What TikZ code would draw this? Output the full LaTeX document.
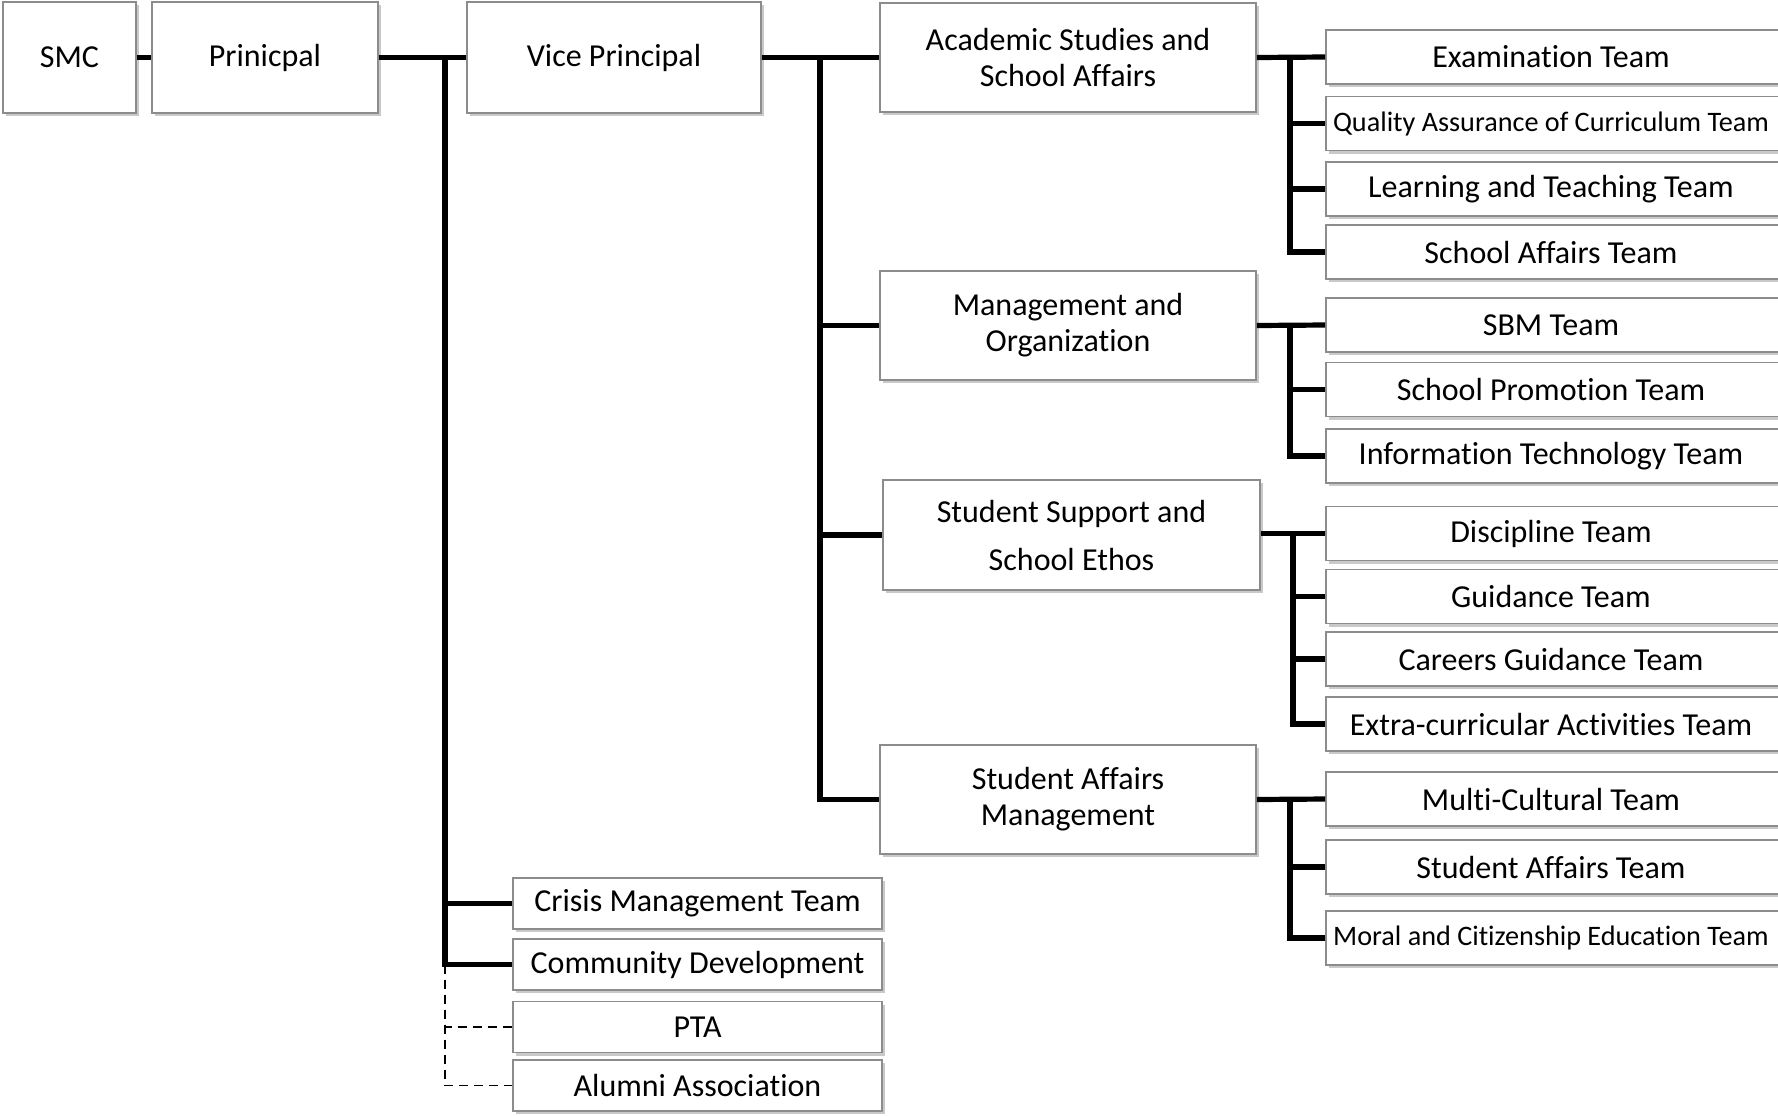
\documentclass[tikz,border=0pt]{standalone}
\usepackage{fontspec}
\setmainfont{Carlito}[Ligatures={NoCommon,NoRequired,NoContextual}]
\usetikzlibrary{shadows}
\newcommand\tibrk{t\kern0pt i}
\begin{document}
\begin{tikzpicture}[x=0.5pt,y=-0.5pt,
  box/.style={draw=black!45, line width=0.8pt, fill=white, rectangle, inner sep=0pt, align=center,
    font=\fontsize{16}{18.5}\selectfont,
    drop shadow={shadow xshift=1.4pt, shadow yshift=-1.6pt, fill=black!35, opacity=0.6}},
  bw/.style={minimum width=#1*0.5pt},
  bh/.style={minimum height=#1*0.5pt},
  rbox/.style={box, bw=480, bh=54},
  lbox/.style={box, bw=369, bh=51},
  mbox/.style={box, bw=376, bh=109},
  link/.style={line width=2.6pt},
  dlink/.style={line width=0.9pt, dash pattern=on 4.5pt off 3pt},
  small/.style={font=\fontsize{14.1}{16}\selectfont}
]
\clip (0,0) rectangle (1778,1115);
\fill[white] (0,0) rectangle (1778,1115);

% top row
\node[box, bw=133, bh=111] (smc) at (69.5,57.5) {SMC};
\node[box, bw=226, bh=111] (pri) at (265,57.5) {Prinicpal};
\node[box, bw=294, bh=111] (vp) at (614,57.5) {Vice Principal};

% middle boxes
\node[mbox] (acad) at (1068,57.5) {Academic Studies and\\[-0.5pt]School Affairs};
\node[mbox] (mgmt) at (1068,325.5) {Management and\\[-0.5pt]Organiza\tibrk on};
\node[box, bw=377, bh=110] (ssup) at (1071.5,535) {Student Support and\\[5.5pt]School Ethos};
\node[mbox] (sam) at (1068,799.5) {Student Affairs\\[-0.5pt]Management};

% right boxes
\node[rbox] (exam)   at (1566,57)    {Examination Team\hspace*{15pt}};
\node[rbox, small] (qual) at (1566,123.5) {Quality Assurance of Curriculum Team\hspace*{15pt}};
\node[rbox] (learn)  at (1566,189)   {Learning and Teaching Team\hspace*{15pt}};
\node[rbox] (saff)   at (1566,252)   {School Affairs Team\hspace*{15pt}};
\node[rbox] (sbm)    at (1566,325)   {SBM Team\hspace*{15pt}};
\node[rbox] (promo)  at (1566,389.5) {School Promo\tibrk on Team\hspace*{15pt}};
\node[rbox] (it)     at (1566,456)   {Informa\tibrk on Technology Team\hspace*{15pt}};
\node[rbox] (disc)   at (1566,533.5) {Discipline Team\hspace*{15pt}};
\node[rbox] (guid)   at (1566,596.5) {Guidance Team\hspace*{15pt}};
\node[rbox] (career) at (1566,659)   {Careers Guidance Team\hspace*{15pt}};
\node[rbox] (extra)  at (1566,724)   {Extra-curricular Ac\tibrk vi\tibrk es Team\hspace*{15pt}};
\node[rbox] (multi)  at (1566,799)   {Multi-Cultural Team\hspace*{15pt}};
\node[rbox] (sat)    at (1566,867)   {Student Affairs Team\hspace*{15pt}};
\node[rbox, small] (moral) at (1566,938) {Moral and Ci\tibrk zenship Educa\tibrk on Team\hspace*{15pt}};

% bottom-left boxes
\node[lbox] (crisis) at (697.5,903.5)  {Crisis Management Team};
\node[lbox] (comm)   at (697.5,964.5)  {Community Development};
\node[lbox] (pta)    at (697.5,1027)   {PTA};
\node[lbox] (alum)   at (697.5,1085.5) {Alumni Associa\tibrk on};

% junction coordinates
\coordinate (pj) at (445,57.5);
\coordinate (pjc) at (445,964.5);
\coordinate (vj) at (820,57.5);
\coordinate (aj) at (1290,57);
\coordinate (mj) at (1290,325);
\coordinate (sj) at (1293,533.5);
\coordinate (tj) at (1290,799);

% connectors
\draw[link] (smc) -- (pri);
\draw[link] (pri) -- (vp);
\draw[link] (pj) |- (crisis.west);
\draw[link] (pj) |- (comm.west);
\draw[dlink] (pjc) |- (pta.west);
\draw[dlink] (pjc) |- (alum.west);

\draw[link] (vp) -- (acad);
\draw[link] (vj) |- (mgmt.west);
\draw[link] (vj) |- (ssup.west);
\draw[link] (vj) |- (sam.west);

\draw[link] (acad.east) -- (exam.west);
\draw[link] (aj) |- (qual.west);
\draw[link] (aj) |- (learn.west);
\draw[link] (aj) |- (saff.west);

\draw[link] (mgmt.east) -- (sbm.west);
\draw[link] (mj) |- (promo.west);
\draw[link] (mj) |- (it.west);

\draw[link] (ssup.east |- sj) -- (disc.west);
\draw[link] (sj) |- (guid.west);
\draw[link] (sj) |- (career.west);
\draw[link] (sj) |- (extra.west);

\draw[link] (sam.east) -- (multi.west);
\draw[link] (tj) |- (sat.west);
\draw[link] (tj) |- (moral.west);
\end{tikzpicture}
\end{document}
